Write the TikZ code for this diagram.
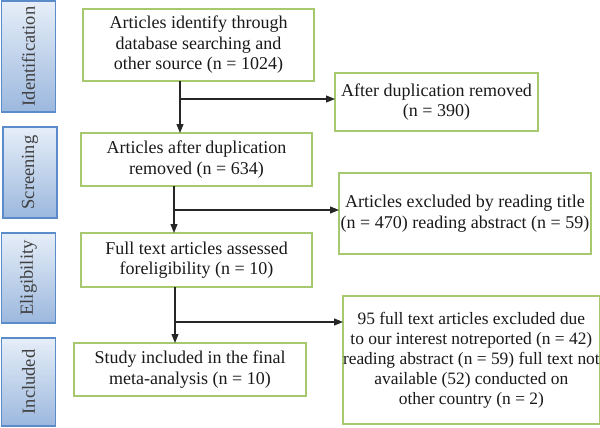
\documentclass[tikz,border=0pt]{standalone}
\usepackage{fontspec}
\setmainfont{Liberation Serif}
\usetikzlibrary{arrows.meta}
\definecolor{grn}{HTML}{A8C870}
\definecolor{bord}{HTML}{5B8BC9}
\definecolor{btop}{HTML}{E6EEF8}
\definecolor{bbot}{HTML}{9CB8DE}
\begin{document}
\begin{tikzpicture}[x=1pt,y=-1pt,
  flow/.style={draw=grn, line width=1.2pt, fill=white, align=center, inner sep=0pt, outer sep=0pt,
    font=\fontsize{18}{20.5}\selectfont, text=black!90, anchor=north west},
  stage/.style={draw=bord, line width=1.2pt, top color=btop, bottom color=bbot, inner sep=0pt, outer sep=0pt, anchor=north west},
  stagetext/.style={rotate=90, font=\fontsize{18.5}{20}\selectfont, text=black!75},
  arr/.style={line width=1.1pt, draw=black!85, -{Triangle[length=9pt,width=7pt]}}]
\useasboundingbox (0,0) rectangle (600,428);
% stage boxes
\node[stage, minimum width=54pt, minimum height=111pt, label={[stagetext]center:Identification}] (s1) at (1.5,1) {};
\node[stage, minimum width=54pt, minimum height=91pt, label={[stagetext]center:Screening}] (s2) at (3,127) {};
\node[stage, minimum width=54pt, minimum height=90pt, label={[stagetext]center:Eligibility}] (s3) at (1.5,233) {};
\node[stage, minimum width=54pt, minimum height=88pt, label={[stagetext]center:Included}] (s4) at (1.5,338) {};
% main flow
\node[flow, minimum width=231pt, minimum height=72pt] (b1) at (83,9) {Articles identify through\\database searching and\\other source (n = 1024)};
\node[flow, minimum width=231pt, minimum height=53pt] (b2) at (81,133) {Articles after duplication\\removed (n = 634)};
\node[flow, minimum width=231pt, minimum height=54pt] (b3) at (81,233) {Full text articles assessed\\foreligibility (n = 10)};
\node[flow, minimum width=232pt, minimum height=53pt] (b4) at (74,343) {Study included in the final\\meta-analysis (n = 10)};
% right boxes
\node[flow, minimum width=203pt, minimum height=58pt] (r1) at (335,73) {After duplication removed\\(n = 390)};
\node[flow, minimum width=252pt, minimum height=81pt] (r2) at (339,173) {Articles excluded by reading title\\(n = 470) reading abstract (n = 59)};
\node[flow, minimum width=252pt, minimum height=128pt, font=\fontsize{17.4}{20}\selectfont] (r3) at (343,296) {95 full text articles excluded due\\to our interest notreported (n = 42)\\reading abstract (n = 59) full text not\\available (52) conducted on\\other country (n = 2)};
% connectors
\coordinate (j1) at (180,99);
\coordinate (j2) at (174,210);
\coordinate (j3) at (175,322);
\draw[arr] (b1.south -| j1) -- (b2.north -| j1);
\draw[arr] (j1) -- (j1 -| r1.west);
\draw[arr] (b2.south -| j2) -- (b3.north -| j2);
\draw[arr] (j2) -- (j2 -| r2.west);
\draw[arr] (b3.south -| j3) -- (b4.north -| j3);
\draw[arr] (j3) -- (j3 -| r3.west);
\end{tikzpicture}
\end{document}
